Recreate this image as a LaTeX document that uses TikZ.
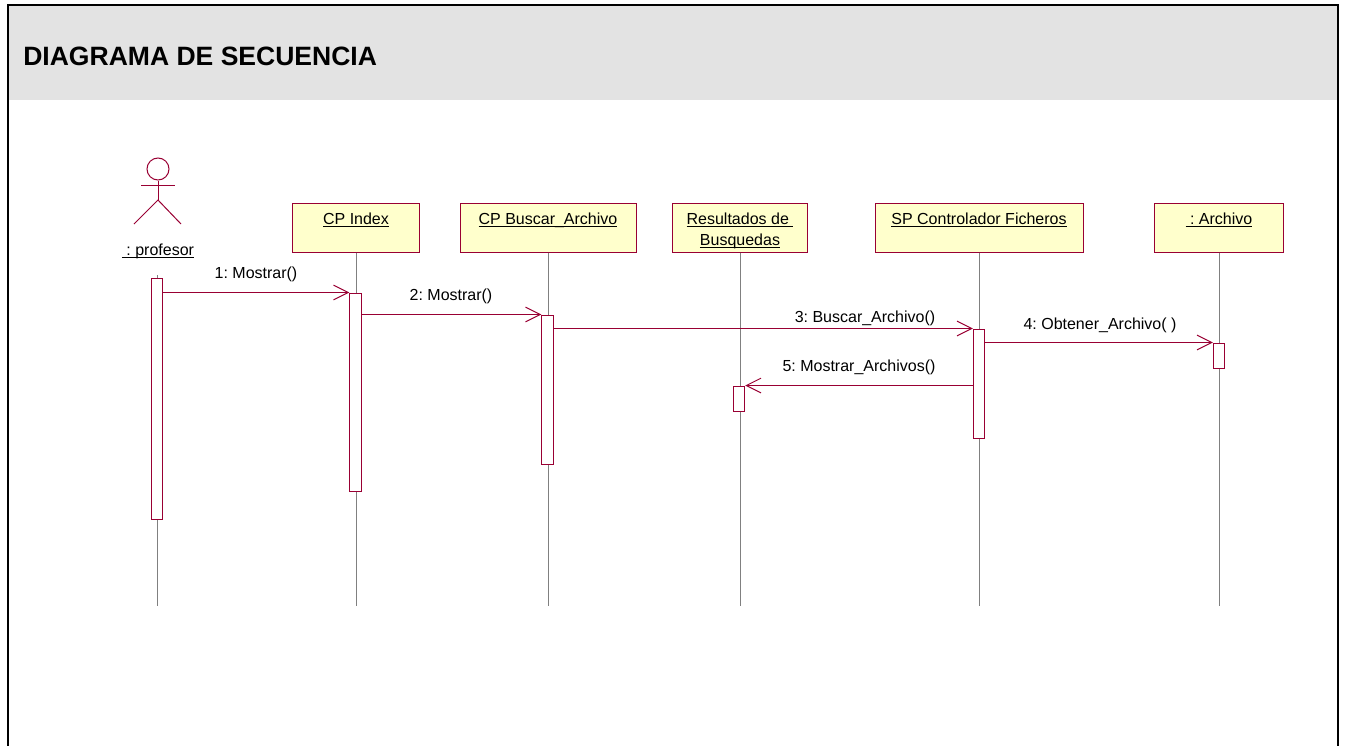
\documentclass[tikz,border=0pt]{standalone}
\usepackage{fontspec}
\setmainfont{Liberation Sans}
\usetikzlibrary{arrows.meta}
\frenchspacing
\definecolor{granate}{RGB}{153,0,51}
\definecolor{amarillo}{RGB}{255,255,204}
\definecolor{cabecera}{RGB}{227,227,227}
\newcommand{\subrayar}[1]{\raisebox{-2.25pt}{\underline{\smash{#1}}}\strut}
\tikzset{
	objeto/.style={draw=granate,fill=amarillo,line width=0.75pt,align=center,minimum height=36.75pt,inner sep=0pt,font=\fontsize{12}{15.75}\selectfont},
	barra/.style={draw=granate,fill=white,line width=0.75pt,minimum width=8.6pt,inner sep=0pt},
	vida/.style={draw=black!50,line width=0.75pt},
	mensaje/.style={draw=granate,line width=0.75pt,-{Straight Barb[length=11pt,width=11pt]}},
	etiqueta/.style={inner sep=0pt,font=\fontsize{12}{14}\selectfont}
}
\begin{document}
\begin{tikzpicture}[x=0.75pt,y=-0.75pt]
	\useasboundingbox (0,0) rectangle (1346,746);

	% Cabecera y marco
	\fill[cabecera] (8,5) rectangle (1338,100);
	\draw[line width=1.5pt] (8,746) -- (8,5) -- (1338,5) -- (1338,746);
	\node[anchor=west,inner sep=0pt,font=\fontsize{19.9}{24}\selectfont\bfseries] (titulo) at (23,56) {DIAGRAMA DE SECUENCIA};

	% Actor
	\node[circle,draw=granate,line width=0.75pt,minimum size=16.5pt,inner sep=0pt] (cabeza) at (158,169) {};
	\coordinate (cadera) at (158,200);
	\coordinate (brazoI) at (141,185);
	\coordinate (brazoD) at (175,185);
	\coordinate (pieI) at (134,224);
	\coordinate (pieD) at (181,224);
	\draw[granate,line width=0.75pt] (cabeza) -- (cadera);
	\draw[granate,line width=0.75pt] (brazoI) -- (brazoD);
	\draw[granate,line width=0.75pt] (pieI) -- (cadera) -- (pieD);
	\node[etiqueta,anchor=base] (profesor) at (158,252) {\subrayar{\ : profesor}};

	% Objetos
	\node[objeto,minimum width=95.25pt] (index) at (356,227.5) {\subrayar{CP Index}\\\strut};
	\node[objeto,minimum width=132pt] (buscar) at (548,227.5) {\subrayar{CP Buscar\_Archivo}\\\strut};
	\node[objeto,minimum width=101.25pt] (resultados) at (740,227.5) {\subrayar{Resultados de\ }\\\subrayar{Busquedas}};
	\node[objeto,minimum width=156pt] (controlador) at (979,227.5) {\subrayar{SP Controlador Ficheros}\\\strut};
	\node[objeto,minimum width=96.75pt] (archivo) at (1219,227.5) {\subrayar{\ : Archivo}\\\strut};

	% Lineas de vida
	\coordinate (inicioProfesor) at (157,275);
	\coordinate (finProfesor) at (157,606);
	\draw[vida] (inicioProfesor) -- (finProfesor);
	\draw[vida] (index.south) -- (index.south |- finProfesor);
	\draw[vida] (buscar.south) -- (buscar.south |- finProfesor);
	\draw[vida] (resultados.south) -- (resultados.south |- finProfesor);
	\draw[vida] (controlador.south) -- (controlador.south |- finProfesor);
	\draw[vida] (archivo.south) -- (archivo.south |- finProfesor);

	% Barras de activacion
	\node[barra,minimum height=180.75pt] (barraProfesor) at (157,398.5) {};
	\node[barra,minimum height=148.5pt] (barraIndex) at (355.5,392) {};
	\node[barra,minimum height=111.75pt] (barraBuscar) at (547.5,389.5) {};
	\node[barra,minimum height=18.75pt] (barraResultados) at (739,398.5) {};
	\node[barra,minimum height=81.75pt] (barraControlador) at (979,383.5) {};
	\node[barra,minimum height=18.75pt] (barraArchivo) at (1219,355.5) {};

	% Mensajes
	\draw[mensaje] (barraProfesor.east |- barraIndex.north) -- (barraIndex.north west);
	\draw[mensaje] (barraIndex.east |- barraBuscar.north) -- (barraBuscar.north west);
	\draw[mensaje] (barraBuscar.east |- barraControlador.north) -- (barraControlador.north west);
	\draw[mensaje] (barraControlador.east |- barraArchivo.north) -- (barraArchivo.north west);
	\draw[mensaje] (barraControlador.west |- barraResultados.north) -- (barraResultados.north east);

	% Etiquetas de los mensajes
	\node[etiqueta] (m1) at (256,274) {1: Mostrar()};
	\node[etiqueta] (m2) at (451,296) {2: Mostrar()};
	\node[etiqueta] (m3) at (865,318) {3: Buscar\_Archivo()};
	\node[etiqueta] (m4) at (1100,325) {4: Obtener\_Archivo( )};
	\node[etiqueta] (m5) at (859,367) {5: Mostrar\_Archivos()};
\end{tikzpicture}
\end{document}
